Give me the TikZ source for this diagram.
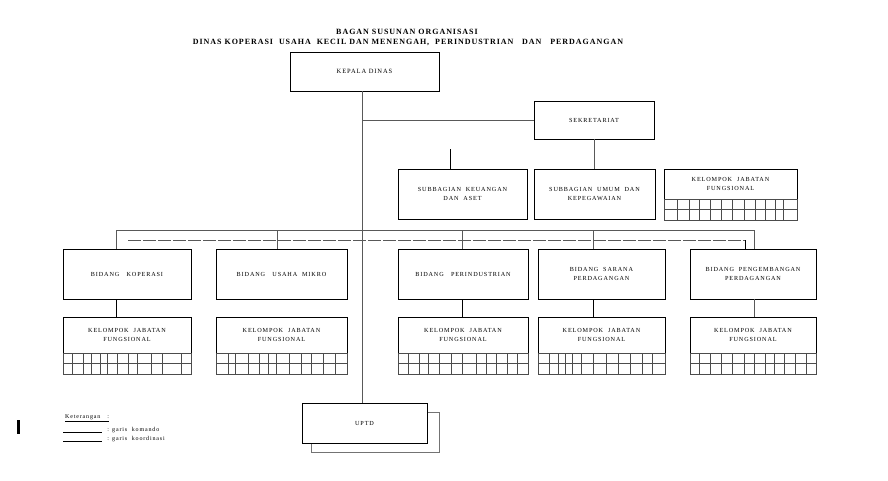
\documentclass[tikz,border=0pt]{standalone}
\usepackage{fontspec}
\setmainfont{Liberation Serif}
\newfontfamily\boxfont[LetterSpace=14]{Liberation Serif}
\newfontfamily\titlefont[LetterSpace=12]{Liberation Serif}

\tikzset{
    unit/.style={draw, line width=0.8pt, inner sep=0pt, outer sep=0pt, anchor=north west,
        align=center, font=\boxfont\fontsize{6.2}{9.5}\selectfont},
    komando/.style={draw=black!65, line width=0.9pt},
    koordinasi/.style={draw=black!65, line width=0.9pt, dash pattern=on 13pt off 2pt},
    selgaris/.style={draw=black!70, line width=0.6pt},
    ketfont/.style={inner sep=0pt, font=\boxfont\fontsize{6}{7}\selectfont}
}

% grid of cells under a functional group box: left, right, top, inner lines
\newcommand\jabgrid[4]{%
    \draw[selgaris] (#1,#3) rectangle (#2,#3+21);
    \draw[selgaris] (#1,#3+10.5) -- (#2,#3+10.5);
    \foreach \x in {#4} \draw[selgaris] (\x,#3) -- (\x,#3+21);
}

\begin{document}
\begin{tikzpicture}[x=1pt, y=-1pt]
    \useasboundingbox (0,0) rectangle (888,480);

    \node[font=\titlefont\bfseries\fontsize{8}{9}\selectfont] (judul1) at (407,32) {BAGAN SUSUNAN ORGANISASI};
    \node[font=\titlefont\bfseries\fontsize{8}{9}\selectfont] (judul2) at (408,42.5)
        {DINAS KOPERASI~ USAHA~ KECIL DAN MENENGAH,~ PERINDUSTRIAN~~ DAN~~ PERDAGANGAN};

    \node[unit, minimum width=149pt, minimum height=39pt, font=\boxfont\fontsize{6.5}{9}\selectfont] (kepala) at (290,52) {KEPALA DINAS};
    \node[unit, minimum width=120pt, minimum height=38pt] (sekretariat) at (534,101) {SEKRETARIAT};
    \node[unit, minimum width=129pt, minimum height=50pt] (keuangan) at (398,169) {SUBBAGIAN~ KEUANGAN\\DAN~ ASET};
    \node[unit, minimum width=121pt, minimum height=50pt] (umum) at (534,169) {SUBBAGIAN~ UMUM~ DAN\\KEPEGAWAIAN};
    \node[unit, minimum width=133pt, minimum height=30pt] (jfsek) at (664,169) {KELOMPOK~ JABATAN\\FUNGSIONAL};
    \jabgrid{664}{797}{199}{677,689,699,710,721,732,744,755,765,775,783}

    % bidang
    \node[unit, minimum width=128pt, minimum height=50pt] (kop) at (63,249) {BIDANG~~ KOPERASI};
    \node[unit, minimum width=131pt, minimum height=50pt] (mikro) at (216,249) {BIDANG~~ USAHA~ MIKRO};
    \node[unit, minimum width=130pt, minimum height=50pt] (industri) at (398,249) {BIDANG~~ PERINDUSTRIAN};
    \node[unit, minimum width=127pt, minimum height=50pt] (sarana) at (538,249) {BIDANG~ SARANA\\PERDAGANGAN};
    \node[unit, minimum width=126pt, minimum height=50pt] (kembang) at (690,249) {BIDANG~ PENGEMBANGAN\\PERDAGANGAN};

    % kelompok jabatan fungsional
    \node[unit, minimum width=128pt, minimum height=36pt] (jfkop) at (63,317) {KELOMPOK~ JABATAN\\FUNGSIONAL};
    \node[unit, minimum width=131pt, minimum height=36pt] (jfmikro) at (216,317) {KELOMPOK~ JABATAN\\FUNGSIONAL};
    \node[unit, minimum width=130pt, minimum height=36pt] (jfindustri) at (398,317) {KELOMPOK~ JABATAN\\FUNGSIONAL};
    \node[unit, minimum width=127pt, minimum height=36pt] (jfsarana) at (538,317) {KELOMPOK~ JABATAN\\FUNGSIONAL};
    \node[unit, minimum width=126pt, minimum height=36pt] (jfkembang) at (690,317) {KELOMPOK~ JABATAN\\FUNGSIONAL};
    \jabgrid{63}{191}{353}{72,83,91,100,107,117,128,137,151,162,181}
    \jabgrid{216}{347}{353}{228,235,248,259,268,276,289,301,311,323,335}
    \jabgrid{398}{528}{353}{408,419,428,439,451,462,476,486,496,507,517}
    \jabgrid{538}{665}{353}{549,558,565,572,581,593,606,618,630,642,652}
    \jabgrid{690}{816}{353}{699,710,721,732,744,754,765,774,784,795,806}

    % uptd with its shadow
    \draw[draw=black!55, line width=0.8pt] (311,412) rectangle (439,452);
    \node[unit, fill=white, minimum width=125pt, minimum height=40pt] (uptd) at (302,403) {UPTD};

    % garis komando
    \coordinate (pusat) at (362,91);
    \coordinate (bus1) at (116,230);
    \coordinate (bus2) at (277,230);
    \coordinate (bus3) at (462,230);
    \coordinate (bus4) at (593,230);
    \coordinate (bus5) at (754,230);
    \coordinate (keutop) at (450,149);
    \draw[komando] (pusat) -- (pusat |- uptd.north);
    \draw[komando] (pusat |- sekretariat.west) -- (sekretariat.west);
    \draw[komando] (sekretariat.south) -- (sekretariat.south |- umum.north);
    \draw[komando, draw=black] (keutop) -- (keutop |- keuangan.north);
    \draw[komando] (bus1) -- (bus5);
    \draw[komando] (bus1) -- (bus1 |- kop.north);
    \draw[komando] (bus2) -- (bus2 |- mikro.north);
    \draw[komando] (bus3) -- (bus3 |- industri.north);
    \draw[komando] (bus4) -- (bus4 |- sarana.north);
    \draw[komando] (bus5) -- (bus5 |- kembang.north);
    \draw[komando, draw=black] (kop.south -| bus1) -- (jfkop.north -| bus1);
    \draw[komando, draw=black] (industri.south -| bus3) -- (jfindustri.north -| bus3);
    \draw[komando, draw=black] (sarana.south -| bus4) -- (jfsarana.north -| bus4);
    \draw[komando] (kembang.south -| bus5) -- (jfkembang.north -| bus5);

    % garis koordinasi
    \coordinate (koor) at (128,240);
    \coordinate (koorend) at (745,240);
    \draw[koordinasi] (koor) -- (koorend);
    \draw[komando, draw=black] (koorend) -- (koorend |- kembang.north);

    % keterangan
    \fill (17,420) rectangle (19.5,434);
    \node[ketfont, anchor=west] (ket) at (65,418) {\underline{Keterangan~~~:}};
    \coordinate (kom) at (63,432);
    \coordinate (koo) at (63,441);
    \draw[line width=0.8pt] (kom) -- ++(39,0) node[ketfont, right, xshift=5pt, yshift=1.5pt] (ketkom) {: garis~ komando};
    \draw[line width=0.8pt] (koo) -- ++(39,0) node[ketfont, right, xshift=5pt, yshift=1.5pt] (ketkoo) {: garis~ koordinasi};
\end{tikzpicture}
\end{document}
